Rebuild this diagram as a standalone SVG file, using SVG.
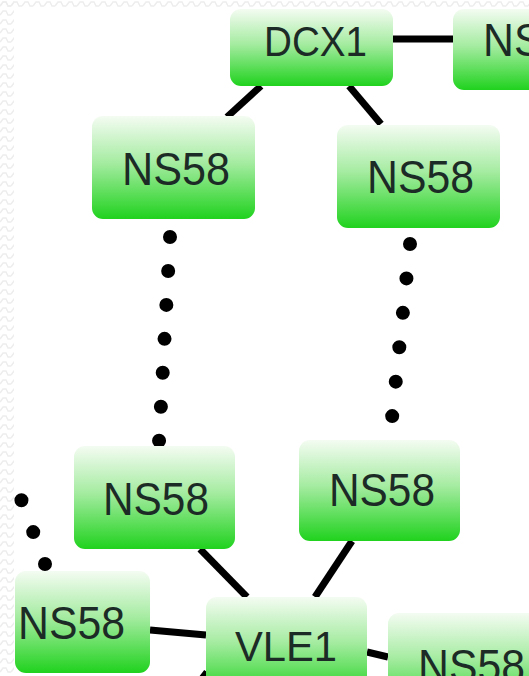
<svg xmlns="http://www.w3.org/2000/svg" width="529" height="676" viewBox="0 0 529 676">
<defs>
<linearGradient id="g" x1="0" y1="0" x2="0" y2="1">
<stop offset="0" stop-color="#f4fcf2"/>
<stop offset="0.45" stop-color="#a6eca2"/>
<stop offset="1" stop-color="#20d21e"/>
</linearGradient>
<pattern id="wave" x="0" y="0" width="11" height="9" patternUnits="userSpaceOnUse">
<polyline points="0,6 3,2 6,2 8,6 11,6" fill="none" stroke="#ededed" stroke-width="1.5"/>
</pattern>
</defs>
<style>
.n rect{fill:url(#g);}
.n text{font-family:"Liberation Sans",Arial,sans-serif;fill:#1c2b26;}
.e line{stroke:#000;stroke-width:7;fill:none;}
.e line.d{stroke-width:14;stroke-linecap:round;}
</style>
<rect width="529" height="676" fill="#fff"/>
<rect x="0" y="0" width="529" height="9" fill="url(#wave)"/>
<rect x="0" y="0" width="14" height="676" fill="url(#wave)"/>
<g id="edges" class="e">
<line x1="393" y1="39" x2="453" y2="39"/>
<line x1="261" y1="86" x2="227" y2="117"/>
<line x1="349" y1="86" x2="381" y2="124"/>
<line class="d" x1="170" y1="237" x2="159" y2="442" stroke-dasharray="0 34"/>
<line class="d" x1="410" y1="244" x2="392" y2="418" stroke-dasharray="0 34.6"/>
<line x1="200" y1="549" x2="247" y2="597"/>
<line x1="352" y1="541" x2="315" y2="597"/>
<line x1="150" y1="630" x2="206" y2="635"/>
<line x1="367" y1="652" x2="388" y2="657"/>
<line x1="207" y1="672" x2="201" y2="680"/>
<line class="d" x1="45" y1="564" x2="21" y2="499" stroke-dasharray="0 34"/>
</g>
<g id="n1" class="n"><rect x="230" y="9" width="163" height="77" rx="11"/><text x="264" y="56" font-size="42" textLength="103" lengthAdjust="spacingAndGlyphs">DCX1</text></g>
<g id="n2" class="n"><rect x="453" y="9" width="120" height="81" rx="11"/><text x="483" y="56" font-size="46" textLength="107" lengthAdjust="spacingAndGlyphs">NS58</text></g>
<g id="n3" class="n"><rect x="92" y="116" width="163" height="103" rx="11"/><text x="122" y="185" font-size="47" textLength="108" lengthAdjust="spacingAndGlyphs">NS58</text></g>
<g id="n4" class="n"><rect x="337" y="125" width="163" height="103" rx="11"/><text x="367" y="193" font-size="47" textLength="107" lengthAdjust="spacingAndGlyphs">NS58</text></g>
<g id="n5" class="n"><rect x="74" y="446" width="161" height="103" rx="11"/><text x="103" y="515" font-size="47" textLength="106" lengthAdjust="spacingAndGlyphs">NS58</text></g>
<g id="n6" class="n"><rect x="299" y="440" width="161" height="101" rx="11"/><text x="329" y="506" font-size="47" textLength="106" lengthAdjust="spacingAndGlyphs">NS58</text></g>
<g id="n7" class="n"><rect x="15" y="571" width="135" height="102" rx="11"/><text x="18" y="639" font-size="47" textLength="107" lengthAdjust="spacingAndGlyphs">NS58</text></g>
<g id="n8" class="n"><rect x="206" y="597" width="161" height="100" rx="11"/><text x="235" y="661" font-size="42" textLength="102" lengthAdjust="spacingAndGlyphs">VLE1</text></g>
<g id="n9" class="n"><rect x="388" y="613" width="160" height="100" rx="11"/><text x="418" y="682" font-size="47" textLength="107" lengthAdjust="spacingAndGlyphs">NS58</text></g>
</svg>
